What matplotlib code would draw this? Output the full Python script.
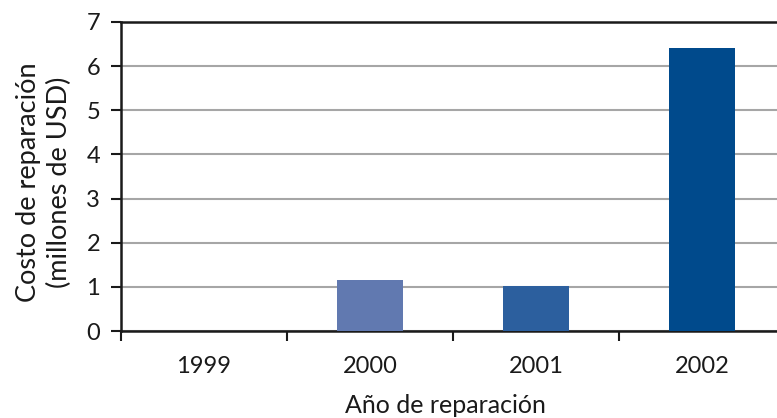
import matplotlib.pyplot as plt
import numpy as np

años = ["1999", "2000", "2001", "2002"]
costo = [0, 1.15, 1.03, 6.42]
colores = ["#6179b0", "#6179b0", "#2c5f9e", "#004a8c"]

plt.rcParams['font.family'] = ['Lato', 'DejaVu Sans']

fig = plt.figure(figsize=(7.77, 4.18), dpi=100)
# eje con borde derecho fuera de la figura (igual que la referencia)
ax = fig.add_axes([121 / 777, 1 - 331 / 418, 664 / 777, 309 / 418])

x = np.arange(len(años))
ax.bar(x, costo, width=0.4, color=colores, zorder=3)

ax.set_xlim(-0.5, 3.5)
ax.set_ylim(0, 7)
ax.set_yticks(np.arange(0, 8, 1))
ax.set_xticks(x)
ax.set_xticklabels(años)
ax.set_xticks(np.arange(-0.5, 4, 1), minor=True)

# cuadricula
ax.yaxis.grid(True, color="#a6a6a6", linewidth=1.5, zorder=0)
ax.set_axisbelow(True)

for lado in ["left", "bottom", "top"]:
    ax.spines[lado].set_color("#1a1a1a")
    ax.spines[lado].set_linewidth(1.8)
ax.spines["right"].set_visible(False)

ax.tick_params(axis="y", length=7, width=1.5, labelsize=17, pad=8, colors="#1a1a1a")
ax.tick_params(axis="x", which="major", length=0, labelsize=17, pad=18, colors="#1a1a1a")
ax.tick_params(axis="x", which="minor", length=7, width=1.5, colors="#1a1a1a")

ax.set_xlabel("Año de reparación", fontsize=18, color="#1a1a1a")
ax.set_ylabel("Costo de reparación\n(millones de USD)", fontsize=19.5,
              color="#1a1a1a", linespacing=1.3)
ax.xaxis.set_label_coords((445 - 121) / 664, -0.205)
ax.yaxis.set_label_coords((72 - 121) / 664, 0.48)

fig.savefig("out.png", dpi=100)
